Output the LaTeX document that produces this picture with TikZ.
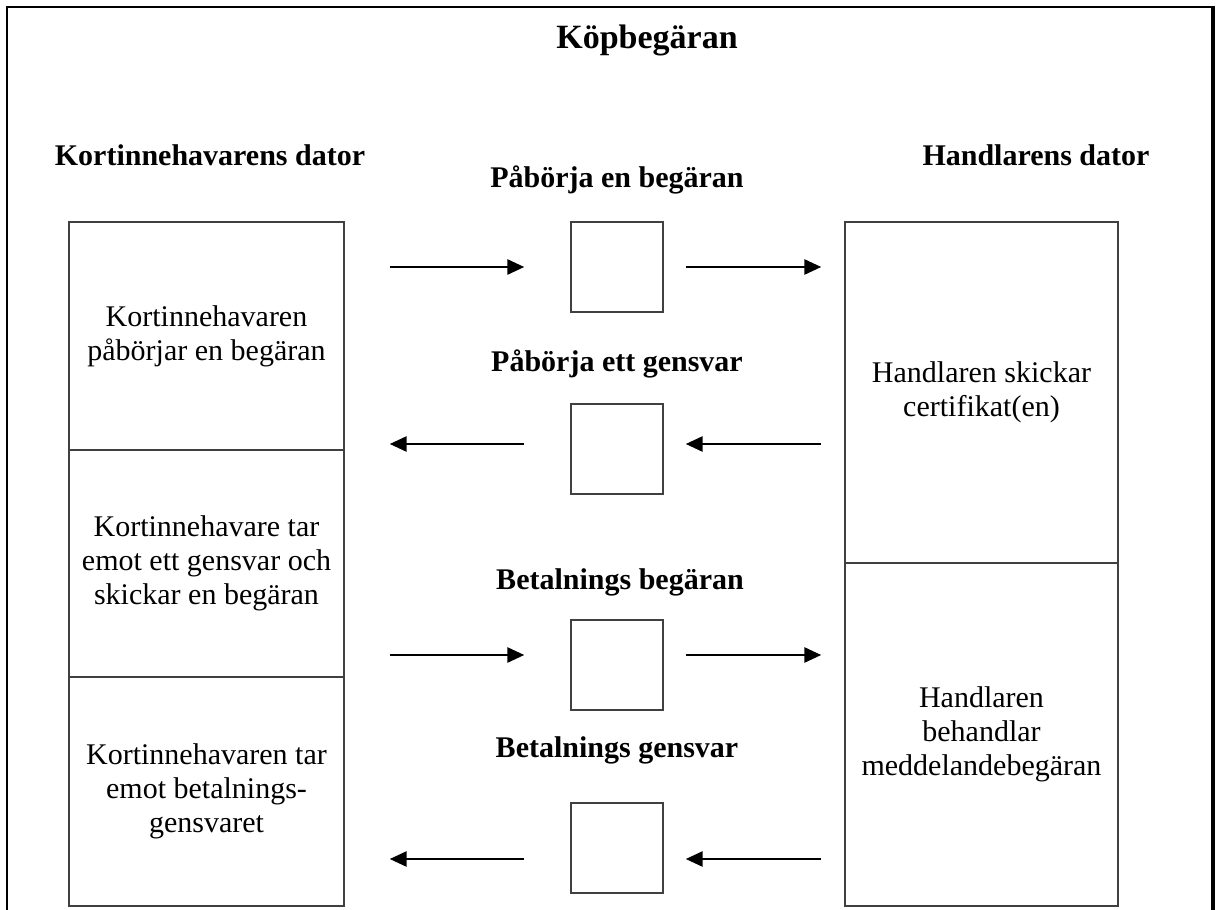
\documentclass[tikz,border=0pt]{standalone}
\usepackage{fontspec}
\setmainfont{Liberation Serif}
\usetikzlibrary{arrows.meta}
\begin{document}
\begin{tikzpicture}[x=1pt,y=-1pt,
  outline/.style={line width=2.5pt},
  box/.style={draw=black!75,line width=1.4pt,inner sep=0pt,align=center,
    font=\fontsize{30}{34}\selectfont},
  msgbox/.style={box,minimum width=92pt,minimum height=90pt},
  head/.style={font=\fontsize{30}{34}\selectfont\bfseries,anchor=base,inner sep=0pt},
  maintitle/.style={head,font=\fontsize{34}{38}\selectfont\bfseries},
  arr/.style={line width=2.8pt,-{Triangle[length=17pt,width=15pt]}}]
\useasboundingbox (0,0) rectangle (1221,910);

% page frame, open at the bottom
\draw[outline] (7,915) -- (7,7) -- (1213,7);
\draw[line width=3.5pt] (1213,5.8) -- (1213,915);

% headings
\node[maintitle] (title) at (647,48) {Köpbegäran};
\node[head] (hcard) at (210,165) {Kortinnehavarens dator};
\node[head] (hmerch) at (1036,165) {Handlarens dator};

% cardholder column
\node[box,minimum width=275pt,minimum height=228pt] (L1) at (206.5,336)
  {Kortinnehavaren\\påbörjar en begäran};
\node[box,minimum width=275pt,minimum height=227pt] (L2) at (206.5,563.5)
  {Kortinnehavare tar\\emot ett gensvar och\\skickar en begäran};
\node[box,minimum width=275pt,minimum height=229pt] (L3) at (206.5,791.5)
  {Kortinnehavaren tar\\emot betalnings-\\gensvaret};

% merchant column
\node[box,minimum width=273pt,minimum height=341pt] (R1) at (981.5,392.5)
  {Handlaren skickar\\certifikat(en)};
\node[box,minimum width=273pt,minimum height=343pt] (R2) at (981.5,734.5)
  {Handlaren\\behandlar\\meddelandebegäran};

% message steps
\node[head] (m1) at (617,187) {Påbörja en begäran};
\node[msgbox] (s1) at (617,267) {};
\node[head] (m2) at (617,371) {Påbörja ett gensvar};
\node[msgbox] (s2) at (617,449) {};
\node[head] (m3) at (620,589) {Betalnings begäran};
\node[msgbox] (s3) at (617,665) {};
\node[head] (m4) at (617,757) {Betalnings gensvar};
\node[msgbox] (s4) at (617,848) {};

% arrow rows
\coordinate (r1) at (0,267);
\coordinate (r2) at (0,444);
\coordinate (r3) at (0,655);
\coordinate (r4) at (0,859);

\draw[arr] ([xshift=45pt]L1.east |- r1) -- ([xshift=-46pt]s1.west |- r1);
\draw[arr] ([xshift=22pt]s1.east |- r1) -- ([xshift=-23pt]R1.west |- r1);

\draw[arr] ([xshift=-23pt]R1.west |- r2) -- ([xshift=22pt]s2.east |- r2);
\draw[arr] ([xshift=-46pt]s2.west |- r2) -- ([xshift=45pt]L2.east |- r2);

\draw[arr] ([xshift=45pt]L2.east |- r3) -- ([xshift=-46pt]s3.west |- r3);
\draw[arr] ([xshift=22pt]s3.east |- r3) -- ([xshift=-23pt]R2.west |- r3);

\draw[arr] ([xshift=-23pt]R2.west |- r4) -- ([xshift=22pt]s4.east |- r4);
\draw[arr] ([xshift=-46pt]s4.west |- r4) -- ([xshift=45pt]L3.east |- r4);
\end{tikzpicture}
\end{document}
